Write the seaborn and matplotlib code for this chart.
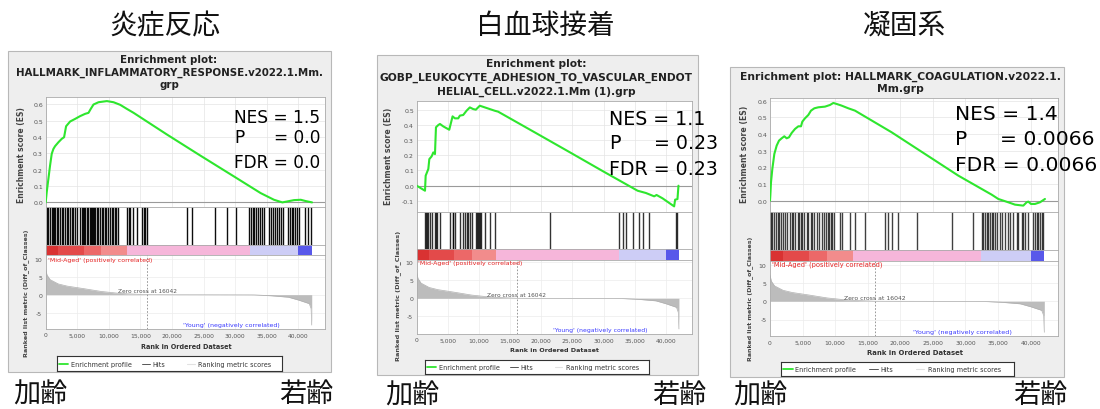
import numpy as np
import matplotlib
matplotlib.use("Agg")
import matplotlib.pyplot as plt
import matplotlib.transforms as mtransforms
from matplotlib.colors import ListedColormap, BoundaryNorm
from matplotlib.patches import Rectangle
import seaborn as sns

sns.set_theme(style="white")
plt.rcParams['font.family'] = ['DejaVu Sans', 'Noto Sans CJK JP']

# ---------------------------------------------------------------- data
panel_titles = ["炎症反応", "白血球接着", "凝固系"]
left_label = "加齢"
right_label = "若齢"
gsea_titles = [
    ["Enrichment plot:", "HALLMARK_INFLAMMATORY_RESPONSE.v2022.1.Mm.", "grp"],
    ["Enrichment plot:", "GOBP_LEUKOCYTE_ADHESION_TO_VASCULAR_ENDOT", "HELIAL_CELL.v2022.1.Mm (1).grp"],
    ["Enrichment plot: HALLMARK_COAGULATION.v2022.1.", "Mm.grp"],
]
nes_values = ["1.5", "1.1", "1.4"]
p_values = ["0.0", "0.23", "0.0066"]
fdr_values = ["0.0", "0.23", "0.0066"]

es_rank_1 = [0, 159, 423, 688, 952, 1217, 1481, 2010, 2539, 2910, 3227, 3862, 4655, 5449, 6242,
             6771, 7141, 7564, 8358, 9681, 10739, 11797, 12855, 13913, 19203, 24493, 29783,
             34015, 36131, 37454, 38247, 39305, 40363, 41157, 42150]
es_score_1 = [0.0, 0.061, 0.143, 0.225, 0.297, 0.327, 0.344, 0.368, 0.389, 0.399, 0.466, 0.495,
              0.511, 0.528, 0.542, 0.548, 0.573, 0.599, 0.613, 0.620, 0.613, 0.597, 0.572, 0.548,
              0.415, 0.286, 0.159, 0.057, 0.016, 0.0, 0.006, 0.014, 0.016, 0.008, 0.0]
hits_1 = [160, 400, 680, 950, 1100, 1300, 1480, 1750, 2000, 2270, 2540, 2790, 3060, 3330, 3600,
          3860, 4100, 4380, 4650, 4920, 5440, 5700, 5900, 6000, 6240, 6510, 6760, 7030, 7150,
          7300, 7550, 7700, 7820, 8090, 8300, 8620, 8890, 9100, 9410, 9600, 9890, 10200, 10470,
          10700, 11000, 11200, 11480, 12850, 13140, 13380, 13850, 14440, 15230, 15520, 15760,
          16030, 22380, 23170, 26870, 28720, 30050, 32200, 32500, 32800, 33000, 33300, 33600,
          33900, 34200, 34500, 35400, 35700, 36000, 36300, 36600, 36900, 37200, 37500, 38300,
          38600, 38900, 39200, 39500, 39800, 40100, 40960, 41500, 42000]

es_rank_2 = [0, 1333, 1440, 1867, 2027, 2400, 2667, 2933, 3093, 3467, 3733, 4267, 5227, 5760,
             6133, 6667, 6933, 7467, 8000, 8533, 9067, 9493, 10133, 10933, 11733, 12533, 13067,
             19200, 24533, 29867, 35467, 36800, 38133, 38507, 39467, 41333, 41493, 41867, 42027]
es_score_2 = [0.0, -0.033, 0.066, 0.110, 0.175, 0.193, 0.219, 0.208, 0.384, 0.399, 0.406, 0.390,
              0.368, 0.456, 0.443, 0.443, 0.461, 0.465, 0.493, 0.515, 0.504, 0.500, 0.526, 0.515,
              0.504, 0.493, 0.487, 0.345, 0.221, 0.096, -0.033, -0.048, -0.070, -0.061, -0.083,
              -0.136, -0.092, -0.088, 0.0]
hits_2 = [1333, 1440, 1600, 1867, 2133, 2400, 2933, 3093, 3200, 3733, 5333, 5760, 5867, 6133,
          6933, 7467, 7733, 8000, 8267, 8533, 8800, 9600, 9707, 9867, 10027, 10133, 10400, 10933,
          11733, 12533, 21333, 32533, 33067, 33600, 34667, 35733, 36267, 37333, 41600, 41867]

es_rank_3 = [0, 50, 153, 358, 665, 1023, 1381, 1790, 2199, 2558, 2916, 3325, 3836, 4348, 4757,
             4962, 5371, 5882, 6291, 6803, 7417, 8440, 9207, 9719, 10230, 10997, 12020, 13043,
             18670, 23785, 28900, 34015, 35038, 36572, 37595, 38874, 39386, 39642, 40050, 40664,
             41432, 42199]
es_score_3 = [0.0, 0.03, 0.11, 0.19, 0.28, 0.33, 0.36, 0.374, 0.386, 0.374, 0.38, 0.406, 0.43,
              0.446, 0.446, 0.474, 0.494, 0.514, 0.54, 0.554, 0.56, 0.564, 0.574, 0.586, 0.58,
              0.57, 0.554, 0.54, 0.41, 0.28, 0.15, 0.036, 0.01, -0.01, -0.024, -0.03, -0.01,
              -0.006, -0.02, -0.02, -0.01, 0.01]
hits_3 = [50, 153, 358, 665, 870, 1176, 1432, 1688, 2046, 2302, 2558, 3069, 3325, 3581, 3836,
          4245, 4450, 4757, 4962, 5268, 5627, 5882, 6291, 6496, 6803, 7161, 7519, 7928, 8337,
          8542, 8849, 9054, 9360, 9565, 9872, 10741, 10997, 12276, 13043, 14578, 17647, 18158,
          18670, 19693, 22506, 27877, 31202, 32480, 32736, 32992, 33248, 33504, 33760, 34015,
          34271, 34527, 34782, 35294, 35549, 36061, 36470, 36828, 37340, 37851, 38107, 38619,
          38874, 39130, 39539, 40408, 40664, 40920, 41176, 41432, 41688, 41943]

# ranked list metric (same ranked dataset for all three plots)
metric_rank = [0, 200, 700, 2000, 3400, 6000, 8800, 11500, 12800, 16042, 20000, 26000, 32400,
               33000, 35700, 38400, 40000, 41700, 42000, 42100]
metric_score = [7.2, 5.5, 4.2, 3.0, 2.4, 1.7, 0.9, 0.4, 0.25, 0.0, -0.02, -0.03, -0.05, -0.06,
                -0.3, -0.7, -1.5, -2.5, -3.9, -8.5]
zero_cross = 16042

rank_ticks = [0, 5000, 10000, 15000, 20000, 25000, 30000, 35000, 40000]
rank_tick_labels = ["0", "5,000", "10,000", "15,000", "20,000", "25,000", "30,000", "35,000", "40,000"]
es_ticks_1 = [0.0, 0.1, 0.2, 0.3, 0.4, 0.5, 0.6]
es_ticks_2 = [-0.1, 0.0, 0.1, 0.2, 0.3, 0.4, 0.5]
es_ticks_3 = [0.0, 0.1, 0.2, 0.3, 0.4, 0.5, 0.6]
metric_ticks = [10, 5, 0, -5]
metric_tick_labels = ["10", "5", "0", "-5"]

# ---------------------------------------------------------------- layout (pixels)
W, H = 1100, 410
fig = plt.figure(figsize=(11, 4.1), dpi=100)
fig.patch.set_facecolor("white")
renderer = fig.canvas.get_renderer()


def ax_px(x0, y0, x1, y1):
    return fig.add_axes([x0 / W, 1 - y1 / H, (x1 - x0) / W, (y1 - y0) / H])


def ftext(x, y, s, **kw):
    return fig.text(x / W, 1 - y / H, s, **kw)


def fit(t, px, dim="w"):
    bb = t.get_window_extent(renderer)
    cur = bb.width if dim == "w" else bb.height
    t.set_fontsize(t.get_fontsize() * px / cur)
    return t.get_fontsize()


panels = [
    dict(es_rank=es_rank_1, es_score=es_score_1, hits=hits_1, es_ticks=es_ticks_1,
         frame=(8, 52, 331, 373), x0=45.7, x1=325, es_y=(98, 208.3), hits_y=(208.3, 246),
         band_y=(246, 256), met_y=(256, 330), es_lim=(-0.03, 0.645), met_lim=(-9.6, 11.1),
         title_x=169, title_y=[60, 72.5, 85], title_w=(1, 308),
         nes_x=234, nes_w=86, nes_base=[123.3, 143.5, 167.7], p_right=320,
         eslab=(21.7, 155, 96), metlab=(26.5, 293, 130), xlab=(186, 346.7, 93),
         red=(48, 260.7, 102), blue_w=94, zc_w=59,
         leg=(56.7, 357.3, 281.7, 372.3), hit_alpha=0.95,
         big=(165, 26), left_x=13, right_x=333, lab_y=395),
    dict(es_rank=es_rank_2, es_score=es_score_2, hits=hits_2, es_ticks=es_ticks_2,
         frame=(377, 56, 698, 376), x0=416.7, x1=692, es_y=(101.7, 212.7), hits_y=(212.7, 250),
         band_y=(250, 260.7), met_y=(260.7, 335), es_lim=(-0.171, 0.559), met_lim=(-9.9, 10.7),
         title_x=536.5, title_y=[64.3, 78.3, 92.3], title_w=(1, 313),
         nes_x=609, nes_w=96, nes_base=[125, 149.3, 175], p_right=718,
         eslab=(388, 156, 98), metlab=(398, 296, 131), xlab=(554.7, 351, 91),
         red=(418.3, 263.3, 103), blue_w=93, zc_w=58,
         leg=(425, 361, 649.3, 375), hit_alpha=0.8,
         big=(545, 26), left_x=385, right_x=706, lab_y=396),
    dict(es_rank=es_rank_3, es_score=es_score_3, hits=hits_3, es_ticks=es_ticks_3,
         frame=(730, 68, 1064, 378), x0=770, x1=1058, es_y=(99.3, 213.3), hits_y=(213.3, 250.7),
         band_y=(250.7, 261.7), met_y=(261.7, 337.3), es_lim=(-0.07, 0.614), met_lim=(-9.6, 11.1),
         title_x=900, title_y=[77.3, 89.3], title_w=(0, 323),
         nes_x=955, nes_w=102, nes_base=[120, 145, 170.7], p_right=1095,
         eslab=(745, 154, 98), metlab=(750, 299, 128), xlab=(915, 353.3, 97),
         red=(771.7, 265, 108), blue_w=97, zc_w=61,
         leg=(781, 363.3, 1014.3, 376.7), hit_alpha=0.75,
         big=(905, 26), left_x=733, right_x=1067, lab_y=396),
]

XMAX = 44200
band_cmap = ListedColormap(["#1414b4", "#5858ea", "#cdcdf6", "#f6b6da",
                            "#f28c8c", "#ec6868", "#e34a4a", "#d93232"])
band_norm = BoundaryNorm([-10, -4, -1.45, -0.045, 0.3, 1.0, 2.0, 3.5, 10], band_cmap.N)
spine_c = "#aaaaaa"
tick_c = "#555555"
cjk = ["Noto Sans CJK JP", "DejaVu Sans"]


def style_axes(ax):
    ax.set_facecolor("white")
    for s in ax.spines.values():
        s.set_color(spine_c)
        s.set_linewidth(0.6)
    ax.set_xlim(0, XMAX)


for i, p in enumerate(panels):
    fx0, fy0, fx1, fy1 = p["frame"]
    fig.add_artist(Rectangle((fx0 / W, 1 - fy1 / H), (fx1 - fx0) / W, (fy1 - fy0) / H,
                             transform=fig.transFigure, facecolor="#eeeeee",
                             edgecolor="#b8b8b8", lw=0.8, zorder=-1))
    x0, x1 = p["x0"], p["x1"]

    # --- enrichment score
    ax = ax_px(x0, p["es_y"][0], x1, p["es_y"][1])
    style_axes(ax)
    ax.set_ylim(*p["es_lim"])
    ax.set_xticks(rank_ticks)
    ax.set_xticklabels([])
    ax.set_yticks(p["es_ticks"])
    ax.set_yticklabels(["%.1f" % v for v in p["es_ticks"]], fontsize=4.5, color=tick_c)
    ax.tick_params(axis="both", length=0, pad=2)
    ax.grid(True, color="#e4e4e4", lw=0.5)
    ax.axhline(0, color="#9a9a9a", lw=0.8, zorder=1)
    sns.lineplot(x=np.array(p["es_rank"]), y=np.array(p["es_score"]), ax=ax, color="#2ee62e",
                 linewidth=1.5, estimator=None, sort=False, legend=False, zorder=3)
    ax.set_xlabel("")
    ax.set_ylabel("")

    # --- hits
    axh = ax_px(x0, p["hits_y"][0], x1, p["hits_y"][1])
    style_axes(axh)
    axh.set_ylim(0, 1)
    axh.set_xticks([])
    axh.set_yticks([])
    axh.vlines(p["hits"], 0, 1, color="black", lw=1.0, alpha=p["hit_alpha"])

    # --- colour band
    axb = ax_px(x0, p["band_y"][0], x1, p["band_y"][1])
    style_axes(axb)
    axb.set_xticks([])
    axb.set_yticks([])
    C = np.array(metric_score[:-1]).reshape(1, -1)
    axb.pcolormesh(np.array(metric_rank), [0, 1], C, cmap=band_cmap, norm=band_norm,
                   shading="flat")
    axb.set_ylim(0, 1)

    # --- ranked metric
    axm = ax_px(x0, p["met_y"][0], x1, p["met_y"][1])
    style_axes(axm)
    axm.set_ylim(*p["met_lim"])
    axm.set_xticks(rank_ticks)
    axm.set_xticklabels(rank_tick_labels, fontsize=4.3, color=tick_c)
    axm.set_yticks(metric_ticks)
    axm.set_yticklabels(metric_tick_labels, fontsize=4.5, color=tick_c)
    axm.tick_params(axis="both", length=0, pad=2.5)
    axm.grid(True, color="#ececec", lw=0.5)
    axm.fill_between(metric_rank, metric_score, 0, color="#bcbcbc", lw=0, zorder=2)
    sns.lineplot(x=np.array(metric_rank), y=np.array(metric_score), ax=axm, color="#b0b0b0",
                 linewidth=0.5, estimator=None, sort=False, legend=False, zorder=2)
    axm.set_xlabel("")
    axm.set_ylabel("")
    axm.axvline(zero_cross, color="#888888", lw=0.6, ls=(0, (2, 2)), zorder=1)
    t = axm.text(zero_cross, 0.4, "Zero cross at %d" % zero_cross, ha="center", va="bottom",
                 fontsize=4, color="#555555", zorder=4)
    fit(t, p["zc_w"])
    blend = mtransforms.blended_transform_factory(axm.transData, axm.transAxes)
    t = axm.text(37050, 0.06, "'Young' (negatively correlated)", transform=blend, ha="right",
                 va="center", fontsize=4, color="#3a3aff")
    fit(t, p["blue_w"])
    rx, ry, rw = p["red"]
    t = ftext(rx, ry, "'Mid-Aged' (positively correlated)", ha="left", va="center",
              fontsize=4, color="#e52222")
    fit(t, rw)

    # --- axis labels
    ex, ey, el = p["eslab"]
    t = ftext(ex, ey, "Enrichment score (ES)", rotation=90, ha="center", va="center",
              fontsize=5, color="#444444", fontweight="bold")
    fit(t, el, "h")
    mx, my, ml = p["metlab"]
    t = ftext(mx, my, "Ranked list metric (Diff_of_Classes)", rotation=90, ha="center",
              va="center", fontsize=5, color="#444444", fontweight="bold")
    fit(t, ml, "h")
    lx, ly, lw_ = p["xlab"]
    t = ftext(lx, ly, "Rank in Ordered Dataset", ha="center", va="center", fontsize=5,
              color="#333333", fontweight="bold")
    fit(t, lw_)

    # --- GSEA title
    lines = gsea_titles[i]
    idx, tw = p["title_w"]
    ts = [ftext(p["title_x"], y, s, ha="center", va="center", fontsize=7, fontweight="bold",
                color="#222222") for s, y in zip(lines, p["title_y"])]
    fs = fit(ts[idx], tw)
    for t in ts:
        t.set_fontsize(fs)

    # --- statistics text
    nb = p["nes_base"]
    t_nes = ftext(p["nes_x"], nb[0], "NES = " + nes_values[i], ha="left", va="baseline",
                  fontsize=12, color="black")
    fs = fit(t_nes, p["nes_w"])
    ftext(p["nes_x"], nb[1], "P", ha="left", va="baseline", fontsize=fs, color="black")
    ftext(p["p_right"], nb[1], "= " + p_values[i], ha="right", va="baseline", fontsize=fs,
          color="black")
    ftext(p["nes_x"], nb[2], "FDR = " + fdr_values[i], ha="left", va="baseline", fontsize=fs,
          color="black")

    # --- legend box
    lx0, ly0, lx1, ly1 = p["leg"]
    axl = ax_px(lx0, ly0, lx1, ly1)
    axl.set_xlim(0, 1)
    axl.set_ylim(0, 1)
    axl.set_xticks([])
    axl.set_yticks([])
    axl.set_facecolor("white")
    for s in axl.spines.values():
        s.set_color("#333333")
        s.set_linewidth(0.8)
    axl.plot([0.008, 0.05], [0.5, 0.5], color="#2ee62e", lw=1.3)
    axl.text(0.062, 0.5, "Enrichment profile", va="center", ha="left", fontsize=4.7,
             color="#333333")
    axl.plot([0.378, 0.415], [0.5, 0.5], color="#555555", lw=0.7)
    axl.text(0.424, 0.5, "Hits", va="center", ha="left", fontsize=4.7, color="#333333")
    axl.plot([0.578, 0.613], [0.5, 0.5], color="#e2e2e2", lw=0.8)
    axl.text(0.628, 0.5, "Ranking metric scores", va="center", ha="left", fontsize=4.7,
             color="#333333")

    # --- Japanese labels
    bx, by = p["big"]
    ftext(bx, by, panel_titles[i], ha="center", va="center", fontsize=20, family=cjk,
          color="#111111")
    ftext(p["left_x"], p["lab_y"], left_label, ha="left", va="center", fontsize=19.5,
          family=cjk, color="#111111")
    ftext(p["right_x"], p["lab_y"], right_label, ha="right", va="center", fontsize=19.5,
          family=cjk, color="#111111")

fig.savefig("out.png", dpi=100, facecolor="white")
